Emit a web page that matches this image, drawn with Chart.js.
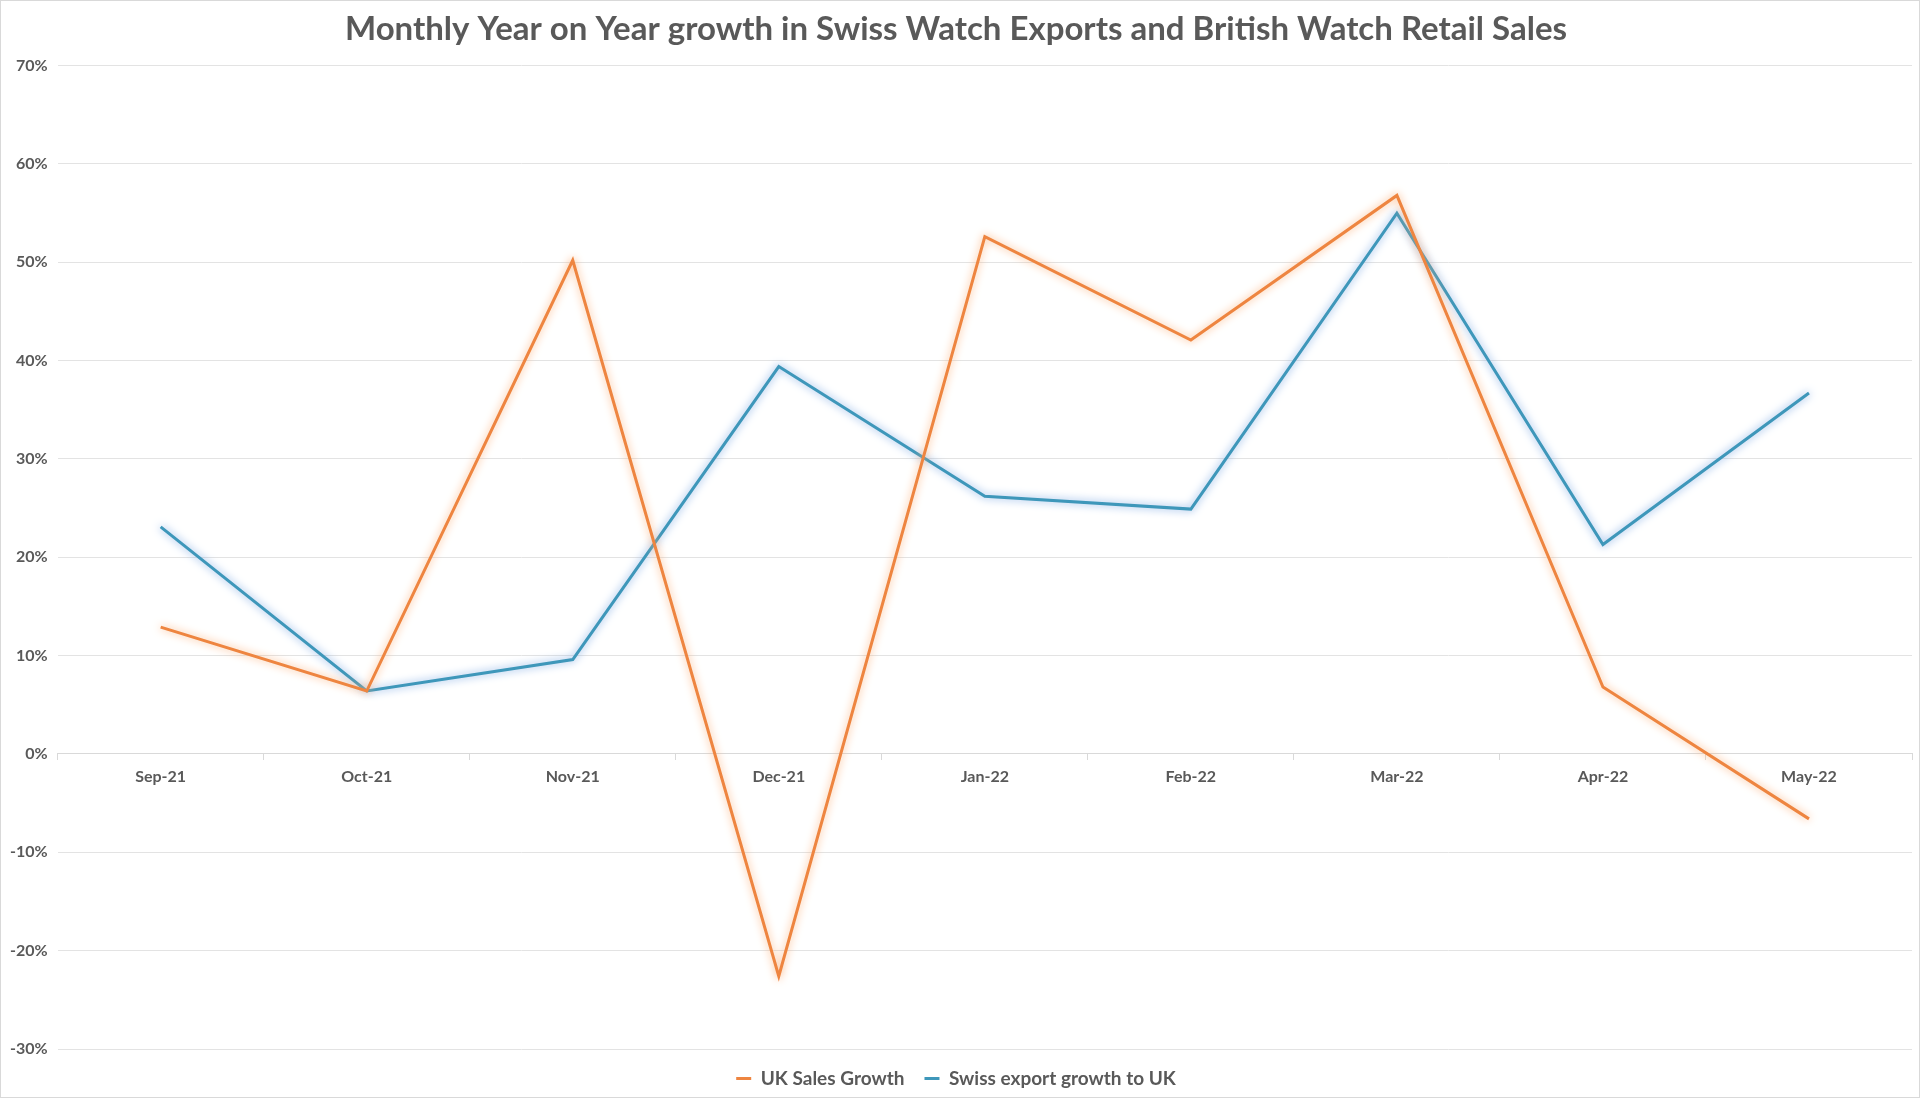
<!DOCTYPE html>
<html>
<head>
<meta charset="utf-8">
<script src="https://cdn.jsdelivr.net/npm/chart.js@4/dist/chart.umd.min.js"></script>
<style>
  html, body { margin: 0; padding: 0; background: #fff; }
  canvas { display: block; }
</style>
</head>
<body>
<canvas id="grafico" width="1920" height="1098"></canvas>
<script>
const meses = ['Sep-21', 'Oct-21', 'Nov-21', 'Dec-21', 'Jan-22', 'Feb-22', 'Mar-22', 'Apr-22', 'May-22'];
const vendasUK = [12.9, 6.4, 50.2, -22.6, 52.6, 42.1, 56.8, 6.8, -6.6];
const exportSuica = [23.1, 6.4, 9.6, 39.4, 26.2, 24.9, 55.0, 21.3, 36.7];

const corTexto = '#595959';
const corGrade = '#e3e3e3';

// glow around the lines, like the Excel soft-edge effect
const brilho = {
  id: 'brilho',
  beforeDatasetDraw(chart, args) {
    const ctx = chart.ctx;
    ctx.save();
    ctx.shadowColor = args.index === 0 ? 'rgba(250,175,120,1)' : 'rgba(120,165,225,1)';
    ctx.shadowBlur = 9;
  },
  afterDatasetDraw(chart) {
    chart.ctx.restore();
  }
};

const moldura = {
  id: 'moldura',
  afterDraw(chart) {
    const ctx = chart.ctx;
    ctx.save();
    ctx.strokeStyle = '#d9d9d9';
    ctx.lineWidth = 1;
    ctx.strokeRect(0.5, 0.5, chart.width - 1, chart.height - 1);
    ctx.restore();
  }
};

const ctx = document.getElementById('grafico').getContext('2d');

new Chart(ctx, {
  type: 'line',
  data: {
    labels: meses,
    datasets: [
      {
        label: 'UK Sales Growth',
        data: vendasUK,
        borderColor: '#EE8540',
        backgroundColor: '#EE8540',
        borderWidth: 3,
        pointRadius: 0,
        tension: 0
      },
      {
        label: 'Swiss export growth to UK',
        data: exportSuica,
        borderColor: '#3E97BA',
        backgroundColor: '#4BACC6',
        borderWidth: 3,
        pointRadius: 0,
        tension: 0
      }
    ]
  },
  options: {
    responsive: false,
    animation: false,
    layout: { padding: { left: 0, right: 8, top: 2, bottom: 0 } },
    plugins: {
      title: {
        display: true,
        text: 'Monthly Year on Year growth in Swiss Watch Exports and British Watch Retail Sales',
        color: corTexto,
        font: { family: 'Lato', size: 33, weight: 'bold' },
        padding: { top: 8, bottom: 16 }
      },
      legend: {
        position: 'bottom',
        labels: {
          color: corTexto,
          font: { family: 'Lato', size: 19, weight: 'bold' },
          usePointStyle: true,
          pointStyle: 'line',
          pointStyleWidth: 15,
          boxWidth: 15,
          padding: 20
        }
      },
      tooltip: { enabled: false }
    },
    scales: {
      x: {
        position: { y: 0 },
        offset: true,
        grid: {
          offset: true,
          drawOnChartArea: false,
          drawTicks: true,
          tickLength: 6,
          color: '#d9d9d9'
        },
        border: { color: '#d9d9d9' },
        ticks: {
          color: corTexto,
          font: { family: 'Lato', size: 16, weight: 'bold' },
          padding: 7,
          maxRotation: 0
        }
      },
      y: {
        min: -30,
        max: 70,
        ticks: {
          stepSize: 10,
          color: corTexto,
          font: { family: 'Lato', size: 16, weight: 'bold' },
          padding: 10,
          callback: v => v + '%'
        },
        grid: { color: corGrade, drawTicks: false },
        border: { display: false }
      }
    }
  },
  plugins: [brilho, moldura]
});
</script>
</body>
</html>
